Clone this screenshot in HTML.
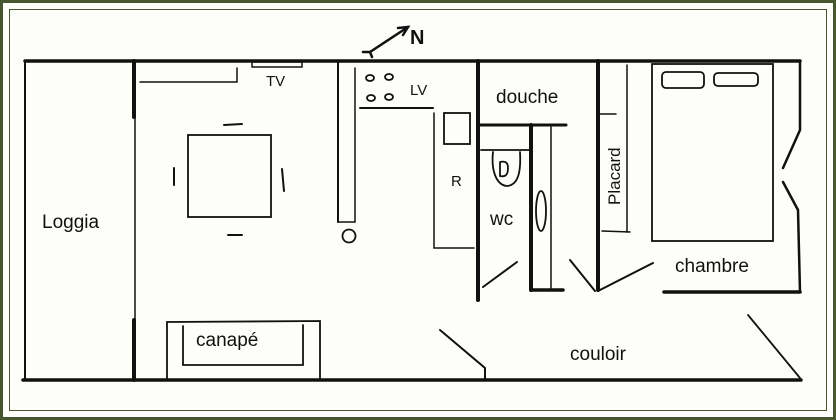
<!DOCTYPE html>
<html><head><style>
html,body{margin:0;padding:0;background:#fff}
svg{display:block}
text{font-family:"Liberation Sans",sans-serif;fill:#111}
</style></head><body>
<svg width="836" height="420" viewBox="0 0 836 420" xmlns="http://www.w3.org/2000/svg">
<rect x="0" y="0" width="836" height="420" fill="#46562f"/>
<rect x="3" y="3" width="830" height="414" fill="#fdfdf9"/>
<rect x="9.5" y="9.5" width="801" height="0" fill="none"/>
<rect x="9.5" y="9.5" width="817" height="401" fill="none" stroke="#46562f" stroke-width="1"/>
<g stroke="#111" fill="none" stroke-linecap="round">
<!-- outer walls -->
<line x1="25" y1="61" x2="800" y2="61" stroke-width="3.5"/>
<line x1="23" y1="380" x2="801" y2="380" stroke-width="3.5"/>
<line x1="25" y1="61" x2="25" y2="380" stroke-width="2"/>
<!-- loggia divider -->
<line x1="134" y1="61" x2="134" y2="117" stroke-width="4"/>
<line x1="135" y1="117" x2="135" y2="320" stroke-width="1.5"/>
<line x1="134" y1="320" x2="134" y2="380" stroke-width="4"/>
<!-- TV and shelf -->
<rect x="252" y="62" width="50" height="5" stroke-width="1.5"/>
<polyline points="140,82 237,82 237,68" stroke-width="1.5"/>
<!-- table + chairs -->
<rect x="188" y="135" width="83" height="82" stroke-width="1.8"/>
<line x1="224" y1="125" x2="242" y2="124" stroke-width="2"/>
<line x1="228" y1="235" x2="242" y2="235" stroke-width="2"/>
<line x1="174" y1="168" x2="174" y2="185" stroke-width="2"/>
<line x1="282" y1="169" x2="284" y2="191" stroke-width="2"/>
<!-- canape -->
<polyline points="167,380 167,322 320,321 320,380" stroke-width="1.8"/>
<polyline points="183,326 183,365 303,365 303,325" stroke-width="1.8"/>
<!-- kitchen -->
<line x1="338" y1="61" x2="338" y2="222" stroke-width="2"/>
<line x1="355" y1="68" x2="355" y2="222" stroke-width="1.5"/>
<line x1="338" y1="222" x2="355" y2="222" stroke-width="1.5"/>
<circle cx="349" cy="236" r="6.5" stroke-width="1.8"/>
<ellipse cx="370" cy="78" rx="4" ry="3" stroke-width="1.8"/>
<ellipse cx="389" cy="77" rx="4" ry="3" stroke-width="1.8"/>
<ellipse cx="371" cy="98" rx="4" ry="3" stroke-width="1.8"/>
<ellipse cx="389" cy="97" rx="4" ry="3" stroke-width="1.8"/>
<line x1="360" y1="108" x2="433" y2="108" stroke-width="2"/>
<polyline points="434,113 434,248 474,248" stroke-width="1.5"/>
<rect x="444" y="113" width="26" height="31" stroke-width="1.8"/>
<!-- N arrow -->
<line x1="370" y1="52" x2="408" y2="27" stroke-width="2.5"/>
<polyline points="398,28 408,27 403,35" stroke-width="2.5"/>
<polyline points="363,52 370,52 372,57" stroke-width="2.5"/>
<!-- wall douche/wc -->
<line x1="478" y1="61" x2="478" y2="300" stroke-width="4"/>
<line x1="480" y1="125" x2="566" y2="125" stroke-width="3"/>
<line x1="481" y1="150" x2="530" y2="150" stroke-width="1.8"/>
<path d="M493,152 C491,170 496,185 507,186 C519,185 521,170 520,152" stroke-width="1.8"/>
<path d="M500,162 L500,176 Q508,178 508,168 Q508,160 500,162" stroke-width="1.8"/>
<line x1="531" y1="125" x2="531" y2="290" stroke-width="4"/>
<line x1="551" y1="127" x2="551" y2="288" stroke-width="1.5"/>
<line x1="531" y1="290" x2="563" y2="290" stroke-width="3.5"/>
<ellipse cx="541" cy="211" rx="5" ry="20" stroke-width="1.8"/>
<line x1="483" y1="287" x2="517" y2="262" stroke-width="2"/>
<!-- wall placard -->
<line x1="598" y1="61" x2="598" y2="290" stroke-width="4"/>
<line x1="570" y1="260" x2="595" y2="291" stroke-width="2"/>
<line x1="598" y1="291" x2="653" y2="263" stroke-width="2"/>
<polyline points="600,114 616,114" stroke-width="1.5"/>
<line x1="627" y1="65" x2="627" y2="232" stroke-width="1.5"/>
<line x1="602" y1="231" x2="630" y2="232" stroke-width="1.5"/>
<!-- bed -->
<rect x="652" y="64" width="121" height="177" stroke-width="1.8"/>
<rect x="662" y="72" width="42" height="16" rx="4" stroke-width="1.8"/>
<rect x="714" y="73" width="44" height="13" rx="4" stroke-width="1.8"/>
<!-- right wall -->
<polyline points="800,61 800,130 783,168" stroke-width="2.5"/>
<polyline points="783,182 798,210 800,292" stroke-width="2.5"/>
<line x1="664" y1="292" x2="800" y2="292" stroke-width="3.5"/>
<!-- couloir doors -->
<polyline points="440,330 485,368 485,380" stroke-width="2"/>
<line x1="748" y1="315" x2="800" y2="378" stroke-width="1.8"/>
</g>
<g font-size="19">
<text x="42" y="228">Loggia</text>
<text x="266" y="86" font-size="15">TV</text>
<text x="196" y="346">canapé</text>
<text x="410" y="95" font-size="15">LV</text>
<text x="451" y="186" font-size="15">R</text>
<text x="410" y="44" font-size="20" font-weight="bold">N</text>
<text x="496" y="103">douche</text>
<text x="490" y="225">wc</text>
<text x="675" y="272">chambre</text>
<text x="570" y="360">couloir</text>
<text transform="translate(620,205) rotate(-90)" font-size="17">Placard</text>
</g>
</svg>
</body></html>
